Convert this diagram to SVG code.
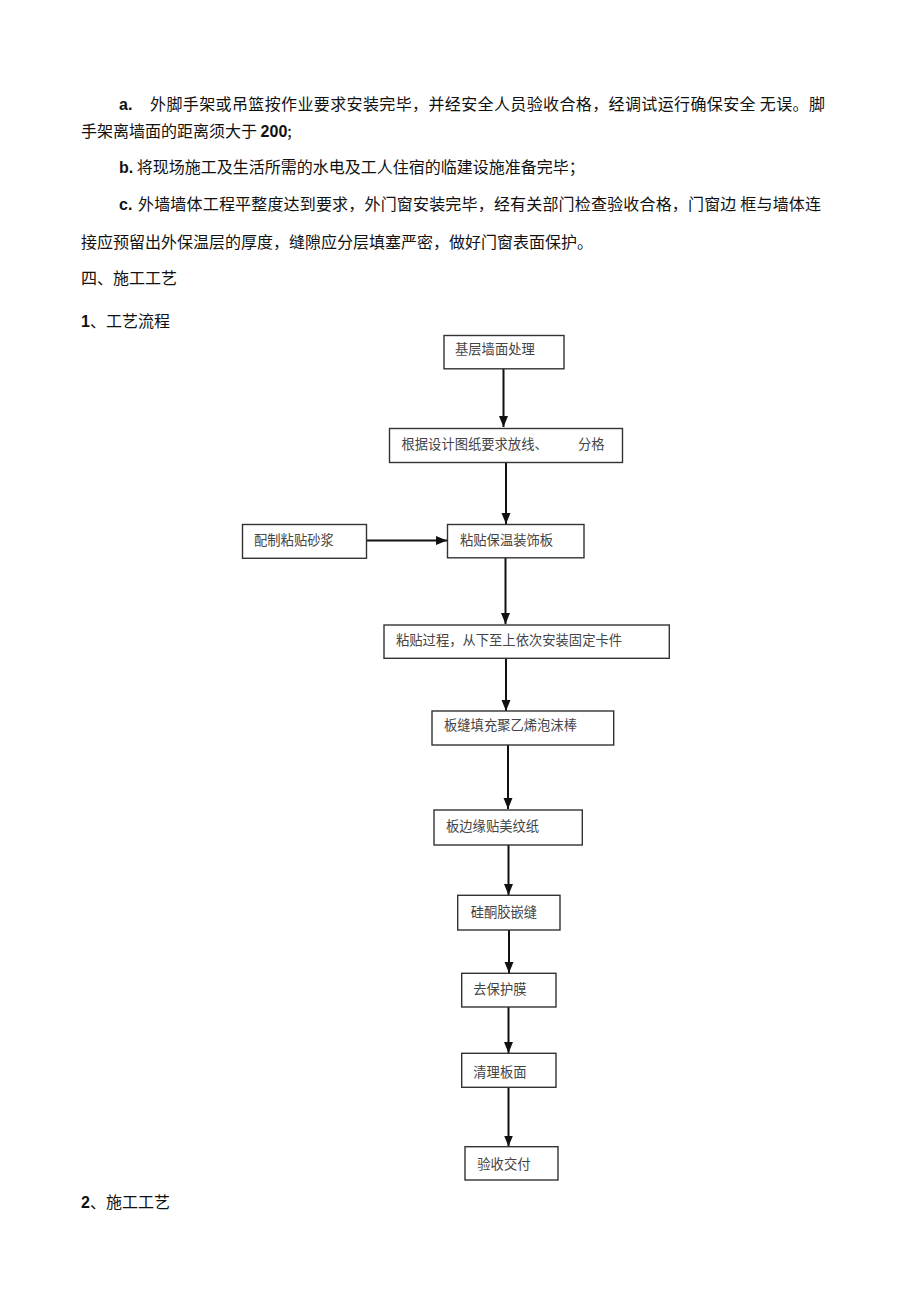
<svg xmlns="http://www.w3.org/2000/svg" width="920" height="1303" viewBox="0 0 920 1303">
<style>
.body{font-family:"Noto Sans CJK SC","Liberation Sans",sans-serif;font-size:16px;fill:#111}
.lat{font-family:"Liberation Sans","Noto Sans CJK SC",sans-serif;font-weight:bold}
.box{fill:#fff;stroke:#333;stroke-width:1.4}
.bt{font-family:"Noto Sans CJK SC",sans-serif;font-size:13.3px;fill:#444}
.con{stroke:#111;stroke-width:2;fill:none}
</style>
<defs>
<marker id="ah" markerUnits="userSpaceOnUse" markerWidth="12" markerHeight="12" viewBox="0 0 12 12" refX="11" refY="6" orient="auto">
<path d="M0,1.5 L11,6 L0,10.5 Z" fill="#111"/>
</marker>
</defs>
<rect width="920" height="1303" fill="#fff"/>
<g id="text">
<text class="body" x="119" y="110"><tspan class="lat">a.</tspan></text>
<text class="body" x="150" y="110" textLength="675" lengthAdjust="spacing">外脚手架或吊篮按作业要求安装完毕，并经安全人员验收合格，经调试运行确保安全 无误。脚</text>
<text class="body" x="81" y="137">手架离墙面的距离须大于 <tspan class="lat">200</tspan>;</text>
<text class="body" x="119" y="173"><tspan class="lat">b.</tspan> 将现场施工及生活所需的水电及工人住宿的临建设施准备完毕；</text>
<text class="body" x="119" y="210"><tspan class="lat">c.</tspan></text>
<text class="body" x="138" y="210" textLength="683" lengthAdjust="spacing">外墙墙体工程平整度达到要求，外门窗安装完毕，经有关部门检查验收合格，门窗边 框与墙体连</text>
<text class="body" x="81" y="248">接应预留出外保温层的厚度，缝隙应分层填塞严密，做好门窗表面保护。</text>
<text class="body" x="81" y="284">四、施工工艺</text>
<text class="body" x="81" y="327"><tspan class="lat">1</tspan>、工艺流程</text>
<text class="body" x="81" y="1208"><tspan class="lat">2</tspan>、施工工艺</text>
</g>
<g id="connectors">
<line class="con" x1="503.5" y1="369" x2="503.5" y2="427" marker-end="url(#ah)"/>
<line class="con" x1="506" y1="462.5" x2="506" y2="524" marker-end="url(#ah)"/>
<line class="con" x1="367" y1="540.5" x2="447" y2="540.5" marker-end="url(#ah)"/>
<line class="con" x1="505.5" y1="558" x2="505.5" y2="624" marker-end="url(#ah)"/>
<line class="con" x1="506" y1="659" x2="506" y2="711" marker-end="url(#ah)"/>
<line class="con" x1="508" y1="745" x2="508" y2="809" marker-end="url(#ah)"/>
<line class="con" x1="508.5" y1="845" x2="508.5" y2="895" marker-end="url(#ah)"/>
<line class="con" x1="509" y1="930" x2="509" y2="973" marker-end="url(#ah)"/>
<line class="con" x1="508.5" y1="1007" x2="508.5" y2="1053" marker-end="url(#ah)"/>
<line class="con" x1="508.5" y1="1087.5" x2="508.5" y2="1146.5" marker-end="url(#ah)"/>
</g>
<g id="n1"><rect class="box" x="444" y="335.5" width="120" height="33.3"/><text class="bt" x="455" y="354">基层墙面处理</text></g>
<g id="n2"><rect class="box" x="389.5" y="428.5" width="233" height="34"/><text class="bt" x="401.5" y="449">根据设计图纸要求放线、<tspan x="578">分格</tspan></text></g>
<g id="n3"><rect class="box" x="447.5" y="524.5" width="136.5" height="33.3"/><text class="bt" x="460" y="545">粘贴保温装饰板</text></g>
<g id="n0"><rect class="box" x="242.5" y="524.5" width="124" height="33.8" stroke-width="1.8"/><text class="bt" x="254" y="545">配制粘贴砂浆</text></g>
<g id="n4"><rect class="box" x="384" y="625" width="285.3" height="33.3" stroke-width="2"/><text class="bt" x="396" y="644.5" font-size="13.5">粘贴过程，从下至上依次安装固定卡件</text></g>
<g id="n5"><rect class="box" x="432" y="711" width="181.7" height="34"/><text class="bt" x="444" y="730">板缝填充聚乙烯泡沫棒</text></g>
<g id="n6"><rect class="box" x="434" y="810" width="148.3" height="35"/><text class="bt" x="446" y="831">板边缘贴美纹纸</text></g>
<g id="n7"><rect class="box" x="457.7" y="895.3" width="102.3" height="34.7" stroke-width="1.8"/><text class="bt" x="470.7" y="917">硅酮胶嵌缝</text></g>
<g id="n8"><rect class="box" x="461.7" y="973.3" width="94.3" height="33.7"/><text class="bt" x="473.3" y="994">去保护膜</text></g>
<g id="n9"><rect class="box" x="461.7" y="1053.3" width="94.3" height="34"/><text class="bt" x="473.3" y="1077">清理板面</text></g>
<g id="n10"><rect class="box" x="465" y="1146.7" width="93" height="33.3"/><text class="bt" x="477.3" y="1169">验收交付</text></g>
</svg>
